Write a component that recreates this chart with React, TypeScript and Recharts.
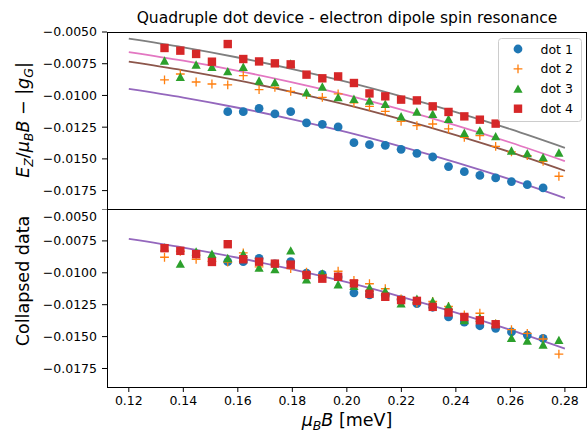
import React from "react";
import { ComposedChart, Line, Scatter, XAxis, YAxis, ReferenceArea } from "recharts";

const FONT = "DejaVu Sans";

// magnetic field axis (mu_B B in meV) of the measured points
const fieldValues = [
  0.1331, 0.1389, 0.1447, 0.1505, 0.1563, 0.162, 0.1678, 0.1736, 0.1794, 0.1852,
  0.191, 0.1968, 0.2026, 0.2083, 0.2141, 0.2199, 0.2257, 0.2315, 0.2373, 0.2431,
  0.2488, 0.2546, 0.2604, 0.2662, 0.272, 0.2778,
];
const fitField = [0.12, 0.14, 0.16, 0.18, 0.2, 0.22, 0.24, 0.26, 0.28];

const xTicks = [0.12, 0.14, 0.16, 0.18, 0.2, 0.22, 0.24, 0.26, 0.28];
const yTicks = [-0.0175, -0.015, -0.0125, -0.01, -0.0075, -0.005];
const X_DOMAIN: [number, number] = [0.112, 0.288];
const Y_DOMAIN: [number, number] = [-0.01895, -0.005];

// raw data, top panel (dot 1 starts at 5th field value, dot 4 stops at 22nd)
const dot1Raw = [
  -0.01128, -0.01128, -0.01102, -0.01146, -0.01128, -0.01217, -0.01228, -0.01248, -0.01372,
  -0.01388, -0.01393, -0.01425, -0.01456, -0.01485, -0.01561, -0.01601, -0.0163, -0.0165,
  -0.01679, -0.01703, -0.01729,
];
const dot2Raw = [
  -0.00878, -0.00831, -0.00894, -0.0091, -0.00917, -0.00844, -0.00954, -0.00936, -0.00968,
  -0.00994, -0.01015, -0.00988, -0.01059, -0.01086, -0.01125, -0.01204, -0.01238, -0.01225,
  -0.01264, -0.0133, -0.01317, -0.01401, -0.01445, -0.01474, -0.01519, -0.01637,
];
const dot3Raw = [
  -0.00726, -0.00854, -0.00758, -0.00776, -0.0081, -0.00776, -0.00884, -0.00897, -0.0075,
  -0.00976, -0.00931, -0.01015, -0.01028, -0.01041, -0.01067, -0.01165, -0.01128, -0.01146,
  -0.01185, -0.01296, -0.01277, -0.01322, -0.01435, -0.01456, -0.01488, -0.01451,
];
const dot4Raw = [
  -0.00626, -0.00647, -0.00673, -0.00734, -0.00595, -0.00713, -0.00732, -0.00747, -0.00755,
  -0.00836, -0.00865, -0.0085, -0.00902, -0.00984, -0.01007, -0.01033, -0.01039, -0.01086,
  -0.0113, -0.01165, -0.01191, -0.01222,
];

// fits, top panel
const fitDot1 = [-0.00949, -0.01017, -0.01097, -0.01188, -0.01289, -0.01403, -0.01527, -0.01662, -0.01809];
const fitDot2 = [-0.00734, -0.00802, -0.00882, -0.00973, -0.01074, -0.01188, -0.01312, -0.01447, -0.01594];
const fitDot3 = [-0.00658, -0.00726, -0.00806, -0.00897, -0.00998, -0.01112, -0.01236, -0.01371, -0.01518];
const fitDot4 = [-0.00553, -0.00621, -0.00701, -0.00792, -0.00893, -0.01007, -0.01131, -0.01266, -0.01413];

// collapsed data, bottom panel
const dot1Collapsed = [
  -0.00913, -0.00913, -0.00887, -0.00931, -0.00913, -0.01002, -0.01013, -0.01033, -0.01157,
  -0.01173, -0.01178, -0.0121, -0.01241, -0.0127, -0.01346, -0.01386, -0.01415, -0.01435,
  -0.01464, -0.01488, -0.01514,
];
const dot2Collapsed = [
  -0.00878, -0.00831, -0.00894, -0.0091, -0.00917, -0.00844, -0.00954, -0.00936, -0.00968,
  -0.00994, -0.01015, -0.00988, -0.01059, -0.01086, -0.01125, -0.01204, -0.01238, -0.01225,
  -0.01264, -0.0133, -0.01317, -0.01401, -0.01445, -0.01474, -0.01519, -0.01637,
];
const dot3Collapsed = [
  -0.00802, -0.0093, -0.00834, -0.00852, -0.00886, -0.00852, -0.0096, -0.00973, -0.00826,
  -0.01052, -0.01007, -0.01091, -0.01104, -0.01117, -0.01143, -0.01241, -0.01204, -0.01222,
  -0.01261, -0.01372, -0.01353, -0.01398, -0.01511, -0.01532, -0.01564, -0.01527,
];
const dot4Collapsed = [
  -0.00807, -0.00828, -0.00854, -0.00915, -0.00776, -0.00894, -0.00913, -0.00928, -0.00936,
  -0.01017, -0.01046, -0.01031, -0.01083, -0.01165, -0.01188, -0.01214, -0.0122, -0.01267,
  -0.01311, -0.01346, -0.01372, -0.01403,
];
const fitCollapsed = [-0.00734, -0.00802, -0.00882, -0.00973, -0.01074, -0.01188, -0.01312, -0.01447, -0.01594];

const C = {
  blue: "#1f77b4",
  orange: "#ff7f0e",
  green: "#2ca02c",
  red: "#d62728",
  purple: "#9467bd",
  brown: "#8c564b",
  pink: "#e377c2",
  grey: "#7f7f7f",
};

type Pt = { x: number; y: number };
const pts = (xs: number[], ys: number[], start = 0): Pt[] =>
  ys.map((y, i) => ({ x: xs[start + i], y }));

type Kind = "circle" | "plus" | "triangle" | "square";

function marker(kind: Kind, color: string, cx: number, cy: number) {
  if (kind === "circle") return <circle cx={cx} cy={cy} r={4.4} fill={color} />;
  if (kind === "plus")
    return (
      <path
        d={`M${cx - 4.4},${cy}H${cx + 4.4}M${cx},${cy - 4.4}V${cy + 4.4}`}
        stroke={color}
        strokeWidth={1.3}
        fill="none"
      />
    );
  if (kind === "triangle")
    return (
      <polygon
        points={`${cx},${cy - 4.4} ${cx - 4.6},${cy + 4} ${cx + 4.6},${cy + 4}`}
        fill={color}
      />
    );
  return <rect x={cx - 4.2} y={cy - 4.2} width={8.4} height={8.4} fill={color} />;
}

const shapeOf = (kind: Kind, color: string) => (p: any) => (
  <g>{marker(kind, color, p.cx, p.cy)}</g>
);

const fmtY = (v: number) => (v < 0 ? "\u2212" : "") + Math.abs(v).toFixed(4);
const tickStyle = { fill: "#000", fontSize: 12.5, fontFamily: FONT };

const series: { name: string; kind: Kind; color: string }[] = [
  { name: "dot 1", kind: "circle", color: C.blue },
  { name: "dot 2", kind: "plus", color: C.orange },
  { name: "dot 3", kind: "triangle", color: C.green },
  { name: "dot 4", kind: "square", color: C.red },
];

function yAxis() {
  return (
    <YAxis
      type="number"
      dataKey="y"
      domain={Y_DOMAIN}
      allowDataOverflow
      ticks={yTicks}
      tickFormatter={fmtY}
      tick={tickStyle}
      tickSize={5}
      tickMargin={5}
      tickLine={{ stroke: "#000" }}
      axisLine={false}
      width={60}
    />
  );
}

function frame() {
  return (
    <ReferenceArea
      x1={X_DOMAIN[0]}
      x2={X_DOMAIN[1]}
      y1={Y_DOMAIN[0]}
      y2={Y_DOMAIN[1]}
      fill="none"
      stroke="#000"
      strokeWidth={1}
      shapeRendering="crispEdges"
      ifOverflow="visible"
    />
  );
}

function fitLine(key: string, ys: number[], color: string) {
  return (
    <Line
      key={key}
      data={pts(fitField, ys)}
      dataKey="y"
      type="monotone"
      stroke={color}
      strokeWidth={1.8}
      dot={false}
      activeDot={false}
      isAnimationActive={false}
    />
  );
}

export default function App() {
  const top = [pts(fieldValues, dot1Raw, 4), pts(fieldValues, dot2Raw), pts(fieldValues, dot3Raw), pts(fieldValues, dot4Raw)];
  const bottom = [
    pts(fieldValues, dot1Collapsed, 4),
    pts(fieldValues, dot2Collapsed),
    pts(fieldValues, dot3Collapsed),
    pts(fieldValues, dot4Collapsed),
  ];

  return (
    <div style={{ position: "absolute", left: 0, top: 0, width: 588, height: 434, background: "#fff" }}>
      <div style={{ position: "absolute", left: 0, top: 0 }}>
        <ComposedChart width={588} height={209} margin={{ top: 32, right: 1.3, bottom: 0, left: 47 }}>
          <XAxis type="number" dataKey="x" domain={X_DOMAIN} allowDataOverflow hide />
          {yAxis()}
          {fitLine("f1", fitDot1, C.purple)}
          {fitLine("f2", fitDot2, C.brown)}
          {fitLine("f3", fitDot3, C.pink)}
          {fitLine("f4", fitDot4, C.grey)}
          {series.map((s, i) => (
            <Scatter
              key={s.name}
              name={s.name}
              data={top[i]}
              dataKey="y"
              shape={shapeOf(s.kind, s.color)}
              isAnimationActive={false}
            />
          ))}
          {frame()}
        </ComposedChart>
      </div>

      <div style={{ position: "absolute", left: 0, top: 209 }}>
        <ComposedChart width={588} height={225} margin={{ top: 0, right: 1.3, bottom: 0, left: 47 }}>
          <XAxis
            type="number"
            dataKey="x"
            domain={X_DOMAIN}
            allowDataOverflow
            ticks={xTicks}
            tickFormatter={(v: number) => v.toFixed(2)}
            tick={tickStyle}
            tickSize={5}
            tickMargin={4}
            tickLine={{ stroke: "#000" }}
            axisLine={false}
            height={47}
          />
          {yAxis()}
          {fitLine("fc", fitCollapsed, C.purple)}
          {series.map((s, i) => (
            <Scatter
              key={s.name}
              name={s.name}
              data={bottom[i]}
              dataKey="y"
              shape={shapeOf(s.kind, s.color)}
              isAnimationActive={false}
            />
          ))}
          {frame()}
        </ComposedChart>
      </div>

      {/* title, axis labels and legend */}
      <svg
        width={588}
        height={434}
        style={{ position: "absolute", left: 0, top: 0, pointerEvents: "none" }}
        fontFamily={FONT}
      >
        <text x={347} y={23} textAnchor="middle" fontSize={15.5} fill="#000">
          Quadruple dot device - electron dipole spin resonance
        </text>

        <text transform="translate(29,120) rotate(-90)" textAnchor="middle" fontSize={17.5} fill="#000">
          <tspan fontStyle="italic">E</tspan>
          <tspan fontStyle="italic" fontSize={12.5} dy={3.5}>Z</tspan>
          <tspan dy={-3.5}>/</tspan>
          <tspan fontStyle="italic">μ</tspan>
          <tspan fontStyle="italic" fontSize={12.5} dy={3.5}>B</tspan>
          <tspan fontStyle="italic" dy={-3.5}>B</tspan>
          <tspan> − |</tspan>
          <tspan fontStyle="italic">g</tspan>
          <tspan fontStyle="italic" fontSize={12.5} dy={3.5}>G</tspan>
          <tspan dy={-3.5}>|</tspan>
        </text>

        <text transform="translate(29,281) rotate(-90)" textAnchor="middle" fontSize={17.5} fill="#000">
          Collapsed data
        </text>

        <text x={347} y={426} textAnchor="middle" fontSize={17.5} fill="#000">
          <tspan fontStyle="italic">μ</tspan>
          <tspan fontStyle="italic" fontSize={12.5} dy={3.5}>B</tspan>
          <tspan fontStyle="italic" dy={-3.5}>B</tspan>
          <tspan> [meV]</tspan>
        </text>

        <g transform="translate(498,38)">
          <rect x={0.5} y={0.5} width={83} height={83} rx={3} fill="#fff" fillOpacity={0.8} stroke="#cccccc" />
          {series.map((s, i) => (
            <g key={s.name}>
              {marker(s.kind, s.color, 20, 11 + i * 19.9)}
              <text x={42.5} y={11 + i * 19.9} dominantBaseline="central" fontSize={12.5} fill="#000">
                {s.name}
              </text>
            </g>
          ))}
        </g>
      </svg>
    </div>
  );
}
